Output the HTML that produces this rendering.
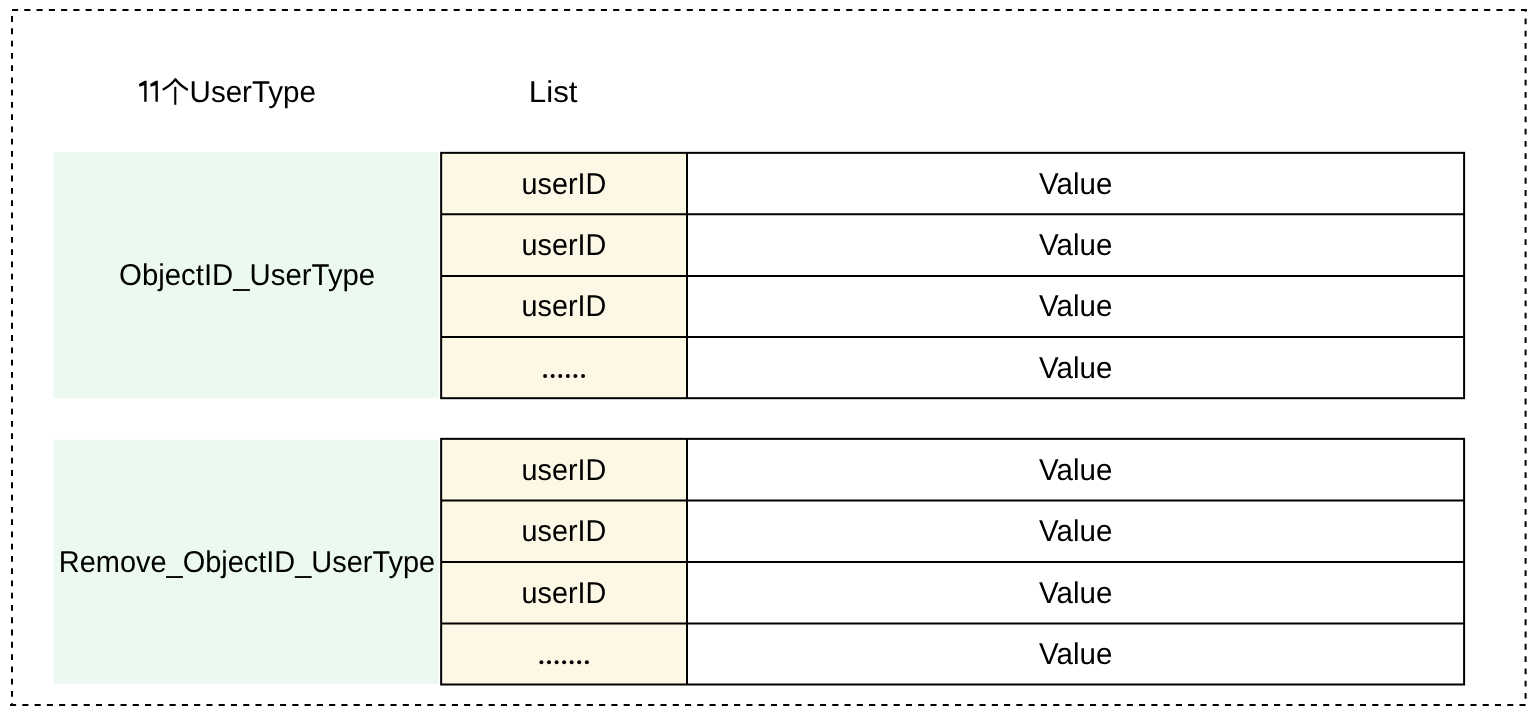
<!DOCTYPE html>
<html><head><meta charset="utf-8"><title>UserType</title>
<style>
html,body{margin:0;padding:0;background:#fff;}
body{width:1540px;height:719px;overflow:hidden;position:relative;}
svg{position:absolute;left:0;top:0;display:block;will-change:transform;}
text{text-rendering:geometricPrecision;font-family:"Liberation Sans",sans-serif;font-size:30px;fill:#000;}
</style></head><body>
<svg width="1540" height="719" viewBox="0 0 1540 719">
<!-- dashed outer border -->
<g stroke="#000" stroke-width="2" fill="none">
<line x1="12" y1="9.9" x2="1527" y2="9.9" stroke-dasharray="6.1 6.168"/>
<line x1="1525.6" y1="704.9" x2="10" y2="704.9" stroke-dasharray="6.1 6.172"/>
<line x1="12" y1="16.1" x2="12" y2="705" stroke-dasharray="5.8 6.47"/>
<line x1="1525.6" y1="9" x2="1525.6" y2="11.6"/>
<line x1="1525.6" y1="18.4" x2="1525.6" y2="705" stroke-dasharray="5.8 6.464"/>
</g>
<!-- green label blocks -->
<rect x="53.3" y="152" width="385.1" height="245.9" fill="#EBF9F0"/>
<rect x="53.3" y="439.6" width="385.1" height="244.3" fill="#EBF9F0"/>
<!-- yellow key columns -->
<rect x="441" y="153" width="246" height="245" fill="#FDF7E5"/>
<rect x="441" y="439" width="246" height="245.5" fill="#FDF7E5"/>
<!-- table grid lines -->
<g stroke="#000" stroke-width="2" fill="none">
<rect x="441.15" y="152.85" width="1022.95" height="245.35"/>
<line x1="441.15" y1="214.3" x2="1464.1" y2="214.3"/>
<line x1="441.15" y1="275.9" x2="1464.1" y2="275.9"/>
<line x1="441.15" y1="336.9" x2="1464.1" y2="336.9"/>
<line x1="687" y1="152.85" x2="687" y2="398.2"/>
<rect x="441.15" y="438.85" width="1022.95" height="245.65"/>
<line x1="441.15" y1="500.4" x2="1464.1" y2="500.4"/>
<line x1="441.15" y1="561.9" x2="1464.1" y2="561.9"/>
<line x1="441.15" y1="623.5" x2="1464.1" y2="623.5"/>
<line x1="687" y1="438.85" x2="687" y2="684.5"/>
</g>
<!-- titles -->
<path d="M139,84 L144.6,80.8 L146.6,80.8 L146.6,101.7 L144.2,101.7 L144.2,85.3 L139.4,86.8 Z"/>
<path transform="translate(11.25 0)" d="M139,84 L144.6,80.8 L146.6,80.8 L146.6,101.7 L144.2,101.7 L144.2,85.3 L139.4,86.8 Z"/>
<path d="M162.8,89.7 Q171.2,85 175.3,79.3 Q179.5,85 187.8,89.9" stroke="#000" stroke-width="2.3" fill="none" stroke-linejoin="round"/>
<line x1="175.26" y1="86.9" x2="175.26" y2="104.8" stroke="#000" stroke-width="2.1"/>
<text x="189.55" y="101.7" textLength="126.45" lengthAdjust="spacingAndGlyphs">UserType</text>
<text x="528.86" y="101.6" textLength="48.63" lengthAdjust="spacingAndGlyphs">List</text>
<text x="119.12" y="285.3" textLength="256.1" lengthAdjust="spacingAndGlyphs">ObjectID_UserType</text>
<text x="58.84" y="571.8" textLength="376.4" lengthAdjust="spacingAndGlyphs">Remove_ObjectID_UserType</text>
<!-- table 1 -->
<g>
<text x="521.6" y="193.6" textLength="84.7" lengthAdjust="spacingAndGlyphs">userID</text>
<text x="521.6" y="255.1" textLength="84.7" lengthAdjust="spacingAndGlyphs">userID</text>
<text x="521.6" y="316.4" textLength="84.7" lengthAdjust="spacingAndGlyphs">userID</text>
<text x="1039.1" y="193.6" textLength="73.3" lengthAdjust="spacingAndGlyphs">Value</text>
<text x="1039.1" y="255.1" textLength="73.3" lengthAdjust="spacingAndGlyphs">Value</text>
<text x="1039.1" y="316.4" textLength="73.3" lengthAdjust="spacingAndGlyphs">Value</text>
<text x="1039.1" y="377.55" textLength="73.3" lengthAdjust="spacingAndGlyphs">Value</text>
</g>
<g>
<text x="521.6" y="479.8" textLength="84.7" lengthAdjust="spacingAndGlyphs">userID</text>
<text x="521.6" y="541.2" textLength="84.7" lengthAdjust="spacingAndGlyphs">userID</text>
<text x="521.6" y="602.7" textLength="84.7" lengthAdjust="spacingAndGlyphs">userID</text>
<text x="1039.1" y="479.8" textLength="73.3" lengthAdjust="spacingAndGlyphs">Value</text>
<text x="1039.1" y="541.2" textLength="73.3" lengthAdjust="spacingAndGlyphs">Value</text>
<text x="1039.1" y="602.7" textLength="73.3" lengthAdjust="spacingAndGlyphs">Value</text>
<text x="1039.1" y="664" textLength="73.3" lengthAdjust="spacingAndGlyphs">Value</text>
</g>
<!-- ellipsis dots -->
<g fill="#000">
<circle cx="545.1" cy="376" r="2"/><circle cx="552.65" cy="376" r="2"/><circle cx="560.25" cy="376" r="2"/><circle cx="567.85" cy="376" r="2"/><circle cx="575.4" cy="376" r="2"/><circle cx="583.05" cy="376" r="2"/>
<circle cx="541.4" cy="662.3" r="2"/><circle cx="549" cy="662.3" r="2"/><circle cx="556.6" cy="662.3" r="2"/><circle cx="564.1" cy="662.3" r="2"/><circle cx="571.6" cy="662.3" r="2"/><circle cx="579.2" cy="662.3" r="2"/><circle cx="586.85" cy="662.3" r="2"/>
</g>
</svg>
</body></html>
